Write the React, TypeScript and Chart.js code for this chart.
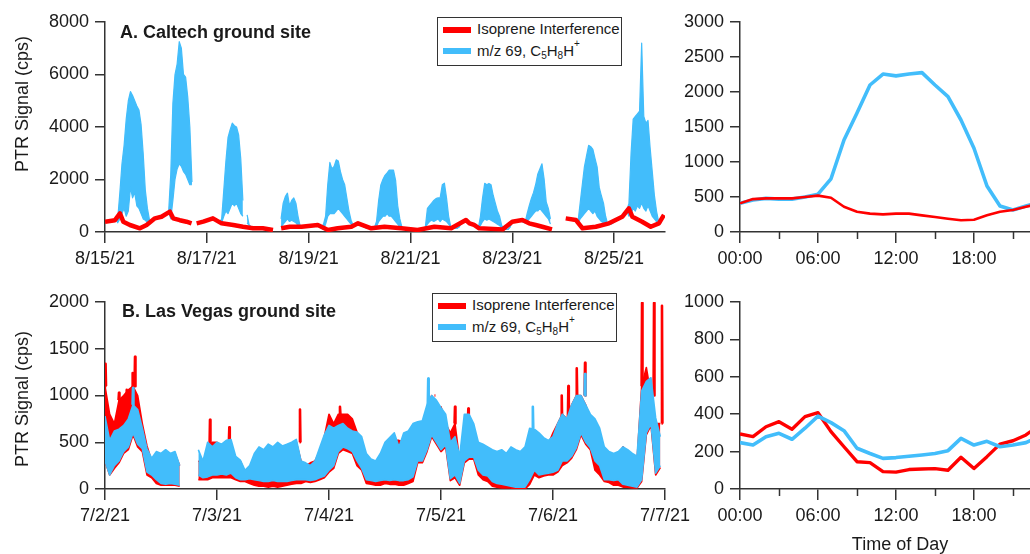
import React, { useEffect, useRef } from 'react';
import { Chart, registerables } from 'chart.js';

Chart.register(...registerables);

const RED = '#ff0000';
const BLUE = '#42bdfb';
const AXIS = '#333333';
const TEXT = '#1a1a1a';
const FONT = '"Liberation Sans", Arial, Helvetica, sans-serif';

// ---------- tick labels ----------
const caltechDates = ['8/15/21', '8/16/21', '8/17/21', '8/18/21', '8/19/21', '8/20/21', '8/21/21', '8/22/21', '8/23/21', '8/24/21', '8/25/21', '8/26/21'];
const vegasDates = ['7/2/21', '7/3/21', '7/4/21', '7/5/21', '7/6/21', '7/7/21'];
const hourLabels = ['00:00', '06:00', '12:00', '18:00'];
const minorHourTicks = [3, 9, 15, 21];
const hoursOfDay = [0, 1, 2, 3, 4, 5, 6, 7, 8, 9, 10, 11, 12, 13, 14, 15, 16, 17, 18, 19, 20, 21, 22, 23];

// ---------- A. Caltech: isoprene interference (days since 8/15/21, cps) ----------
const caltechIsoDay = [
  0, 0.196, 0.294, 0.359, 0.49, 0.686, 0.818, 0.98, 1.11, 1.275, 1.34, 1.47, 1.6, 1.7,
  1.75,
  1.8, 1.93, 2.12, 2.29, 2.52, 2.71, 2.91, 3.1, 3.3,
  3.38,
  3.46, 3.63, 3.86, 4.18, 4.38, 4.57, 4.84, 4.97, 5.23, 5.49, 5.82, 6.14, 6.47, 6.8,
  7.09, 7.16, 7.25, 7.35, 7.81, 8.0, 8.2, 8.33, 8.46, 8.59, 8.78,
  8.9,
  9.05, 9.25, 9.38, 9.64, 9.9, 10.16, 10.29, 10.36, 10.55, 10.72, 10.88, 10.98,
];
const caltechIsoCps = [
  393, 450, 710, 393, 267, 140, 267, 520, 580, 775, 520, 450, 393, 330,
  null,
  330, 393, 520, 330, 267, 200, 140, 140, 76,
  null,
  140, 200, 200, 267, 76, 140, 200, 330, 140, 200, 140, 76, 200, 140,
  457, 330, 267, 140, 100, 393, 457, 330, 267, 200, 100,
  null,
  520, 457, 140, 200, 330, 580, 900, 580, 393, 200, 330, 650,
];

// ---------- A. Caltech: m/z 69 hourly upper / lower envelope (one row per day) ----------
const caltechM69High = [
  [390, 400, 420, 440, 450, 500, 500, 1500, 2600, 3300, 4300, 5000, 5350, 5200, 5000, 4800, 4650, 4100, 3000, 1600, 900, 450, 400, 480],
  [520, 560, 580, 620, 680, 720, 770, 2200, 4900, 6000, 6400, 7250, 7000, 6000, 5900, 5150, 4000, 1900, null, null, 330, 360, 380, 400],
  [420, 480, 520, 500, 450, 400, 370, 500, 1600, 2700, 3600, 3900, 4150, 4050, 4000, 3700, 2800, 1200, null, 650, 250, 200, 180, 160],
  [150, 140, 140, 130, 120, 100, 90, 80, null, null, null, 500, 1100, 1350, 1480, 1000, 1200, 1300, 1100, 600, 220, 200, 200, 200],
  [220, 240, 260, 270, 260, 200, 150, 300, 600, 1800, 2650, 2400, 2500, 2750, 2700, 2300, 2000, 1800, 1300, 800, 450, 250, 300, 330],
  [300, 250, 200, 160, 140, 140, 150, 160, 400, 1200, 1780, 2000, 2160, 2250, 2360, 2360, 2360, 1970, 1000, 500, 180, 160, 150, 140],
  [120, 100, 90, 80, 100, 130, 160, 180, 900, 1000, 1100, 1200, 1270, 1300, 1300, 1800, 1860, 1300, 600, 200, 160, 150, 140, 200],
  [350, 460, 400, 330, 300, 270, 250, 200, 150, 600, 1300, 1855, 1800, 1850, 1800, 1400, 1100, 800, 600, 250, 120, 100, 100, 200],
  [400, 430, 450, 460, 420, 380, 350, 700, 1000, 1280, 1500, 1800, 2200, 2400, 2600, 2030, 1150, 900, 500, null, null, null, null, null],
  [null, null, 520, 500, 470, 460, 450, 400, 1100, 1800, 2480, 2900, 3300, 3250, 3150, 2800, 2480, 1700, 1380, 1100, 600, 300, 300, 320],
  [380, 420, 500, 560, 580, 650, 800, 1100, 3000, 4300, 4400, 4500, 4600, 7200, 4400, 4150, 4250, 3200, 2300, 1400, 800, 400, 350, 600],
];
const caltechM69Low = [
  [390, 400, 420, 440, 450, 500, 350, 500, 700, 900, 600, 800, 1700, 1300, 1500, 1000, 900, 700, 500, 450, 350, 300, 400, 480],
  [520, 560, 580, 620, 680, 720, 770, 500, 1200, 2000, 2400, 2600, 2500, 2300, 2200, 2000, 1800, 1800, null, null, 330, 360, 380, 400],
  [420, 480, 520, 500, 450, 400, 370, 350, 600, 800, 700, 900, 1100, 1000, 1100, 900, 700, 600, null, 350, 250, 200, 180, 160],
  [150, 140, 140, 130, 120, 100, 90, 80, null, null, null, 200, 300, 400, 500, 400, 450, 400, 350, 250, 200, 200, 200, 200],
  [220, 240, 260, 270, 260, 200, 150, 100, 300, 600, 700, 700, 700, 800, 900, 800, 700, 600, 500, 400, 300, 250, 300, 330],
  [300, 250, 200, 160, 140, 140, 150, 160, 200, 400, 500, 600, 600, 700, 600, 600, 500, 400, 300, 200, 180, 160, 150, 140],
  [120, 100, 90, 80, 100, 130, 160, 180, 300, 400, 450, 400, 450, 500, 400, 500, 450, 400, 300, 200, 160, 150, 140, 200],
  [350, 460, 400, 330, 300, 270, 250, 200, 150, 250, 400, 500, 450, 500, 450, 400, 350, 300, 250, 150, 120, 100, 100, 200],
  [400, 430, 450, 460, 420, 380, 350, 400, 500, 600, 700, 800, 800, 900, 800, 700, 600, 500, 300, null, null, null, null, null],
  [null, null, 520, 500, 470, 460, 450, 300, 500, 600, 700, 800, 900, 800, 700, 800, 600, 500, 400, 350, 300, 280, 300, 320],
  [380, 420, 500, 560, 580, 650, 800, 600, 700, 900, 800, 1000, 900, 1100, 900, 800, 1000, 800, 600, 500, 400, 300, 350, 600],
];

// ---------- B. Las Vegas: hourly upper / lower envelopes (one row per day) ----------
const vegasM69High = [
  [780, 520, 620, 640, 680, 750, 900, 850, 650, 430, 330, 400, 380, 420, 380, 400, 250, null, null, null, 420, 300, 500, 450],
  [500, 480, 520, 530, 350, 310, 200, 250, 380, 450, 420, 480, 450, 500, 460, 480, 500, 530, 300, 280, 250, 300, 440, 580],
  [680, 650, 680, 700, 650, 620, 610, 560, 380, 320, 300, 380, 500, 550, 600, 450, 600, 620, 700, 720, 730, 900, 1000, 950],
  [870, 800, 500, 560, 350, 800, 800, 700, 500, 480, 450, 420, 400, 420, 380, 450, 420, 400, 450, 650, 640, 600, 550, 520],
  [560, 700, 800, 750, 900, 1000, 1000, 900, 800, 750, 650, 450, 400, 380, 400, 450, 420, 380, 350, 1050, 1150, 1190, 760, 560],
];
const vegasM69Low = [
  [300, 150, 250, 300, 400, 450, 600, 480, 430, 180, 150, 100, 60, 50, 60, 50, 40, null, null, null, 150, 120, 130, 150],
  [150, 160, 150, 170, 120, 100, 100, 110, 100, 90, 80, 80, 90, 80, 80, 80, 90, 100, 100, 100, 90, 100, 120, 140],
  [200, 250, 400, 450, 430, 400, 300, 220, 100, 90, 80, 90, 100, 90, 100, 90, 90, 100, 130, 300, 300, 420, 580, 500],
  [420, 470, 110, 150, 60, 300, 340, 340, 200, 150, 140, 80, 60, 50, 40, 30, 20, 20, 20, 100, 200, 150, 160, 170],
  [180, 200, 300, 300, 350, 440, 600, 500, 440, 300, 250, 100, 100, 90, 100, 50, 40, 30, 20, 100, 600, 700, 170, 250],
];
const vegasIsoHigh = [
  [1100, 800, 700, 950, 1000, 1060, 1100, 1000, 700, 460, 300, 380, 300, 350, 300, 380, 250, null, null, null, 300, 280, 450, 500],
  [500, 460, 500, 500, 300, 300, 180, 200, 300, 350, 380, 400, 420, 400, 380, 420, 450, 500, 300, 250, 280, 300, 400, 560],
  [800, 700, 800, 800, 800, 750, 610, 500, 300, 280, 260, 300, 450, 480, 520, 520, 500, 550, 600, 650, 700, 850, 1000, 880],
  [880, 700, 600, 700, 300, 700, 700, 600, 450, 420, 400, 380, 350, 360, 340, 400, 380, 350, 400, 600, 600, 520, 520, 480],
  [600, 700, 800, 750, 900, 1000, 1000, 900, 750, 700, 600, 400, 380, 350, 350, 450, 400, 350, 300, 1100, 1300, 1000, 700, 700],
];
const vegasIsoLow = [
  [300, 150, 220, 280, 380, 420, 580, 450, 400, 150, 120, 60, 40, 40, 40, 40, 30, null, null, null, 100, 100, 100, 120],
  [120, 120, 120, 120, 100, 80, 80, 60, 40, 30, 30, 20, 30, 20, 30, 40, 50, 60, 60, 80, 70, 80, 100, 120],
  [180, 220, 380, 420, 400, 380, 250, 200, 60, 50, 40, 40, 60, 50, 50, 40, 40, 60, 80, 280, 280, 400, 560, 480],
  [400, 450, 90, 120, 40, 280, 320, 320, 150, 100, 80, 30, 20, 10, 10, 10, 0, 0, 0, 50, 150, 120, 140, 150],
  [150, 180, 250, 280, 330, 420, 580, 480, 420, 200, 150, 80, 70, 40, 40, 20, 20, 10, 10, 80, 580, 680, 150, 230],
];
// short spikes above the envelope (days since 7/2/21, cps)
const vegasIsoSpikeDay = [0.005, 0.089, 0.125, 0.194, 0.247, 0.268, 0.9375, 1.11, 1.741, 2.098, 2.946, 3.125, 3.244, 4.078, 4.137, 4.212, 4.286, 4.795, 4.902, 4.973];
const vegasIsoSpikeCps = [1340, 700, 1030, 1060, 1240, 1415, 740, 660, 850, 880, 1000, 880, 860, 1000, 1100, 1290, 1350, 1990, 1990, 1960];
const vegasM69SpikeDay = [0.25, 2.886, 3.82, 4.286];
const vegasM69SpikeCps = [1080, 1180, 880, 1230];

// ---------- diurnal averages (hour of day) ----------
const caltechDiurnalM69 = [410, 457, 480, 470, 470, 500, 540, 760, 1315, 1700, 2100, 2257, 2230, 2257, 2277, 2100, 1933, 1600, 1196, 657, 371, 314, 371, 420];
const caltechDiurnalIso = [410, 470, 480, 480, 480, 500, 520, 490, 360, 290, 262, 252, 262, 262, 238, 214, 190, 167, 176, 238, 290, 314, 360, 400];
const vegasDiurnalM69 = [248, 235, 280, 298, 266, 325, 390, 355, 312, 218, 190, 164, 168, 175, 182, 190, 205, 271, 235, 255, 226, 235, 248, 280];
const vegasDiurnalIso = [294, 280, 333, 360, 320, 387, 408, 307, 226, 146, 141, 93, 90, 104, 107, 109, 100, 170, 110, 173, 240, 258, 289, 340];

// ---------- helpers ----------
type Pt = { x: number; y: number | null };

function hourlyPoints(rows: (number | null)[][]): Pt[] {
  const pts: Pt[] = [];
  rows.forEach((row, d) => row.forEach((v, h) => pts.push({ x: d + h / 24, y: v })));
  return pts;
}

function spikePoints(days: number[], cps: number[], baseRows: (number | null)[][]): Pt[] {
  const pts: Pt[] = [];
  days.forEach((t, i) => {
    const d = Math.floor(t);
    const h = Math.min(23, Math.floor((t - d) * 24));
    const base = baseRows[d] ? baseRows[d][h] : null;
    if (base == null) return;
    pts.push({ x: t - 0.004, y: base });
    pts.push({ x: t, y: cps[i] });
    pts.push({ x: t + 0.004, y: base });
    pts.push({ x: t + 0.0045, y: null });
  });
  return pts;
}

function pairPoints(xs: number[], ys: (number | null)[]): Pt[] {
  return xs.map((x, i) => ({ x, y: ys[i] }));
}

const minorTicksPlugin = {
  id: 'minorTicks',
  afterDraw(chart: any) {
    const xs = chart.scales.x;
    const ctx = chart.ctx;
    const b = chart.chartArea.bottom;
    ctx.save();
    ctx.strokeStyle = AXIS;
    ctx.lineWidth = 1.5;
    minorHourTicks.forEach((v) => {
      const px = Math.round(xs.getPixelForValue(v)) + 0.5;
      if (px > chart.chartArea.right) return;
      ctx.beginPath();
      ctx.moveTo(px, b);
      ctx.lineTo(px, b + 7);
      ctx.stroke();
    });
    ctx.restore();
  },
};

interface AxisSpec {
  xMin: number;
  xMax: number;
  xStep: number;
  xLabel: (v: number) => string;
  yMax: number;
  yStep: number;
  yWidth: number;
  xHeight: number;
  padRight: number;
}

function buildOptions(s: AxisSpec) {
  const tickFont = { family: FONT, size: 18 };
  return {
    animation: false,
    responsive: false,
    devicePixelRatio: 1,
    layout: { padding: { left: 0, right: s.padRight, top: 22, bottom: 0 }, autoPadding: false },
    plugins: { legend: { display: false }, tooltip: { enabled: false }, title: { display: false } },
    elements: { point: { radius: 0, hoverRadius: 0 }, line: { tension: 0 } },
    scales: {
      x: {
        type: 'linear',
        min: s.xMin,
        max: s.xMax,
        grid: { display: true, drawOnChartArea: false, drawTicks: true, tickLength: 11, color: AXIS, lineWidth: 1.5 },
        border: { display: true, color: AXIS, width: 1.5 },
        ticks: {
          stepSize: s.xStep,
          autoSkip: false,
          maxRotation: 0,
          minRotation: 0,
          includeBounds: false,
          padding: 5,
          color: TEXT,
          font: tickFont,
          callback: (v: number) => s.xLabel(v),
        },
        afterFit: (sc: any) => {
          sc.height = s.xHeight;
          sc.paddingLeft = 0;
          sc.paddingRight = 0;
        },
      },
      y: {
        type: 'linear',
        min: 0,
        max: s.yMax,
        grid: { display: true, drawOnChartArea: false, drawTicks: true, tickLength: 10, color: AXIS, lineWidth: 1.5 },
        border: { display: true, color: AXIS, width: 1.5 },
        ticks: { stepSize: s.yStep, padding: 6, color: TEXT, font: tickFont, callback: (v: number) => String(v) },
        afterFit: (sc: any) => {
          sc.width = s.yWidth;
          sc.paddingTop = 0;
          sc.paddingBottom = 0;
        },
      },
    },
  };
}

const lineStyle = (color: string, width: number) => ({
  borderColor: color,
  backgroundColor: color,
  borderWidth: width,
  borderJoinStyle: 'round' as const,
  borderCapStyle: 'butt' as const,
  pointRadius: 0,
  fill: false as any,
  spanGaps: false,
});

function configCaltechSeries() {
  return {
    type: 'line',
    data: {
      datasets: [
        { label: 'Isoprene Interference', data: pairPoints(caltechIsoDay, caltechIsoCps), ...lineStyle(RED, 4.5) },
        { label: 'm/z 69 low', data: hourlyPoints(caltechM69Low), ...lineStyle(BLUE, 1.2), fill: '+1' },
        { label: 'm/z 69, C5H8H+', data: hourlyPoints(caltechM69High), ...lineStyle(BLUE, 1.2) },
      ],
    },
    options: buildOptions({
      xMin: 0, xMax: 11, xStep: 2, xLabel: (v) => caltechDates[Math.round(v)] ?? '',
      yMax: 8000, yStep: 2000, yWidth: 105, xHeight: 33, padRight: 35,
    }),
  };
}

function configCaltechDiurnal() {
  return {
    type: 'line',
    data: {
      datasets: [
        { label: 'Isoprene Interference', data: pairPoints(hoursOfDay, caltechDiurnalIso), ...lineStyle(RED, 2.6) },
        { label: 'm/z 69, C5H8H+', data: pairPoints(hoursOfDay, caltechDiurnalM69), ...lineStyle(BLUE, 3.6) },
      ],
    },
    options: buildOptions({
      xMin: 0, xMax: 22.31, xStep: 6, xLabel: (v) => hourLabels[Math.round(v / 6)] ?? '',
      yMax: 3000, yStep: 500, yWidth: 60, xHeight: 33, padRight: 0,
    }),
    plugins: [minorTicksPlugin],
  };
}

function configVegasSeries() {
  return {
    type: 'line',
    data: {
      datasets: [
        { label: 'm/z 69 spikes', data: spikePoints(vegasM69SpikeDay, vegasM69SpikeCps, vegasM69High), ...lineStyle(BLUE, 2.6) },
        { label: 'm/z 69 low', data: hourlyPoints(vegasM69Low), ...lineStyle(BLUE, 1.6), fill: '+1' },
        { label: 'm/z 69, C5H8H+', data: hourlyPoints(vegasM69High), ...lineStyle(BLUE, 1.6) },
        { label: 'Isoprene spikes', data: spikePoints(vegasIsoSpikeDay, vegasIsoSpikeCps, vegasIsoHigh), ...lineStyle(RED, 2.6) },
        { label: 'Isoprene low', data: hourlyPoints(vegasIsoLow), ...lineStyle(RED, 1.6), fill: '+1' },
        { label: 'Isoprene Interference', data: hourlyPoints(vegasIsoHigh), ...lineStyle(RED, 1.6) },
      ],
    },
    options: buildOptions({
      xMin: 0, xMax: 5, xStep: 1, xLabel: (v) => vegasDates[Math.round(v)] ?? '',
      yMax: 2000, yStep: 500, yWidth: 105, xHeight: 65, padRight: 35,
    }),
  };
}

function configVegasDiurnal() {
  return {
    type: 'line',
    data: {
      datasets: [
        { label: 'm/z 69, C5H8H+', data: pairPoints(hoursOfDay, vegasDiurnalM69), ...lineStyle(BLUE, 3.6) },
        { label: 'Isoprene Interference', data: pairPoints(hoursOfDay, vegasDiurnalIso), ...lineStyle(RED, 3.4) },
      ],
    },
    options: buildOptions({
      xMin: 0, xMax: 22.31, xStep: 6, xLabel: (v) => hourLabels[Math.round(v / 6)] ?? '',
      yMax: 1000, yStep: 200, yWidth: 60, xHeight: 65, padRight: 0,
    }),
    plugins: [minorTicksPlugin],
  };
}

function Panel(props: { left: number; top: number; width: number; height: number; build: () => any }) {
  const ref = useRef<HTMLCanvasElement>(null);
  useEffect(() => {
    if (!ref.current) return;
    const chart = new Chart(ref.current, props.build());
    return () => chart.destroy();
  }, []);
  return (
    <canvas
      ref={ref}
      width={props.width}
      height={props.height}
      style={{ position: 'absolute', left: props.left, top: props.top, width: props.width, height: props.height }}
    />
  );
}

function Legend(props: { left: number; top: number }) {
  const txt: React.CSSProperties = { position: 'absolute', left: 39, lineHeight: '18px', whiteSpace: 'nowrap' };
  const small: React.CSSProperties = { fontSize: 10, lineHeight: 0 };
  return (
    <div
      style={{
        position: 'absolute', left: props.left, top: props.top, width: 185, height: 49, boxSizing: 'border-box',
        border: '1.5px solid #333', background: '#fff', fontFamily: FONT, fontSize: 15, color: TEXT,
      }}
    >
      <div style={{ position: 'absolute', left: 4.5, top: 8.5, width: 28, height: 6, background: RED }} />
      <div style={{ ...txt, top: 2 }}>Isoprene Interference</div>
      <div style={{ position: 'absolute', left: 4.5, top: 29.5, width: 28, height: 6.5, background: BLUE }} />
      <div style={{ ...txt, top: 24 }}>
        m/z 69, C<sub style={{ ...small, verticalAlign: -3 }}>5</sub>H<sub style={{ ...small, verticalAlign: -3 }}>8</sub>H
        <sup style={{ ...small, verticalAlign: 9 }}>+</sup>
      </div>
    </div>
  );
}

const labelStyle: React.CSSProperties = {
  position: 'absolute', fontFamily: FONT, fontSize: 18, lineHeight: '18px', color: TEXT, whiteSpace: 'nowrap',
};

export default function App() {
  return (
    <div style={{ position: 'absolute', left: 0, top: 0, width: 1030, height: 554, overflow: 'hidden', background: '#fff' }}>
      <Panel left={0} top={0} width={700} height={265} build={configCaltechSeries} />
      <Panel left={680} top={0} width={350} height={265} build={configCaltechDiurnal} />
      <Panel left={0} top={280} width={700} height={274} build={configVegasSeries} />
      <Panel left={680} top={280} width={350} height={274} build={configVegasDiurnal} />

      <div style={{ ...labelStyle, left: 120, top: 23, fontWeight: 'bold' }}>A. Caltech ground site</div>
      <div style={{ ...labelStyle, left: 122, top: 302, fontWeight: 'bold' }}>B. Las Vegas ground site</div>

      <div style={{ ...labelStyle, left: -78, top: 95, width: 200, textAlign: 'center', transform: 'rotate(-90deg)' }}>PTR Signal (cps)</div>
      <div style={{ ...labelStyle, left: -78, top: 390, width: 200, textAlign: 'center', transform: 'rotate(-90deg)' }}>PTR Signal (cps)</div>

      <div style={{ ...labelStyle, left: 800, top: 535, width: 200, textAlign: 'center' }}>Time of Day</div>

      <Legend left={437} top={17} />
      <Legend left={432} top={293} />
    </div>
  );
}
